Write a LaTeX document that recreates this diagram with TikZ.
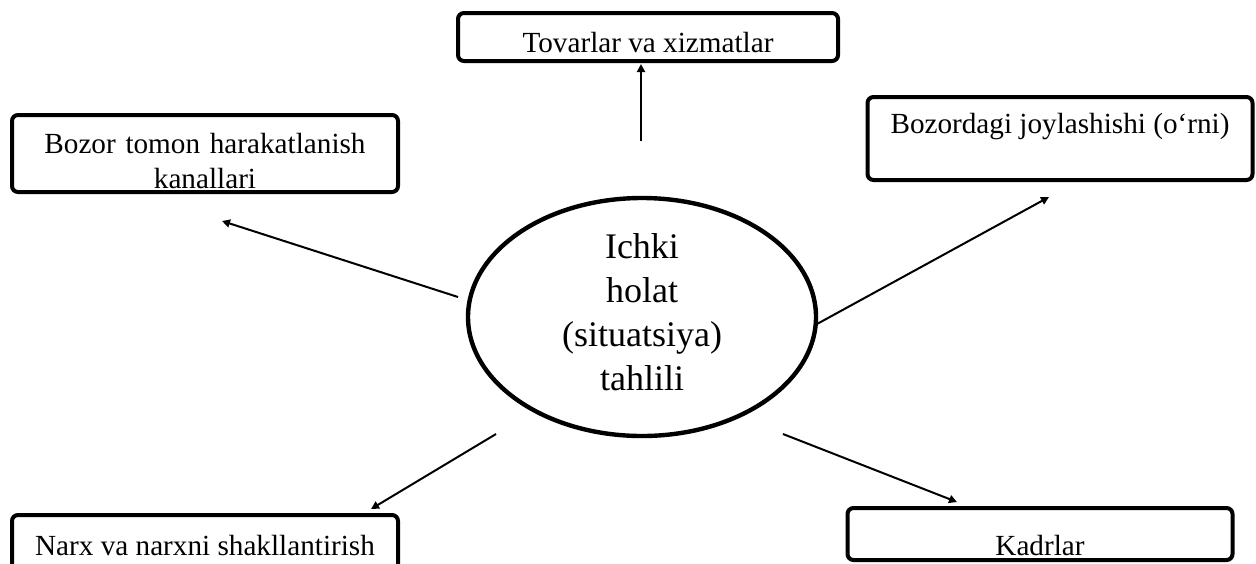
\documentclass[tikz,border=0pt]{standalone}
\usepackage{fontspec}
\setmainfont{Liberation Serif}
\usetikzlibrary{arrows.meta,
							shapes.geometric}

\begin{document}
\begin{tikzpicture}[
	x=0.5pt, y=-0.5pt,
		base/.style = {draw, line width=2pt, inner sep=0pt, anchor=base,
									 font=\fontsize{14.6}{17.5}\selectfont},
		 box/.style = {base, rectangle, rounded corners=3pt, minimum width=193pt},
		oval/.style = {draw, ellipse, line width=2.2pt, inner sep=0pt,
									 minimum width=174pt, minimum height=119pt,
									 text width=100pt, align=center,
									 text height=0pt, text depth=59pt,
									 font=\fontsize{18}{22}\selectfont},
		link/.style = {line width=1pt, arrows=-{Triangle[length=4pt,width=4pt]}}]

\useasboundingbox (0,0) rectangle (1256,563);

\node (ichki) [oval] at (642,317)
			{Ichki\\ holat\\ (situatsiya)\\ tahlili};                 % <-- centre

\node (tovar) [box, text height=19.5pt, text depth=4.5pt, minimum width=190pt]
			at (648,52) {Tovarlar va xizmatlar};                     % <-- top
\node (bozor) [box, text width=193pt, align=center,
			 text height=19pt, text depth=19.5pt]
			at (205,153) {Bozor tomon harakatlanish\\ kanallari};    % <-- left
\node (joy)   [box, text height=18pt, text depth=23.5pt, minimum width=192.5pt]
			at (1060,133) {Bozordagi joylashishi (o‘rni)};           % <-- right
\node (narx)  [box, text height=20pt, text depth=10pt]
			at (205,555) {Narx va narxni shakllantirish};            % <-- bottom left
\node (kadr)  [box, text height=23.5pt, text depth=2.5pt, minimum width=192.5pt]
			at (1040,555) {Kadrlar};                                 % <-- bottom right

%
\coordinate (tovar-a) at (641,141);
\coordinate (tovar-b) at (641,64);
\coordinate (bozor-a) at (458,297);
\coordinate (bozor-b) at (222,221);
\coordinate (joy-a)   at (817,324);
\coordinate (joy-b)   at (1049,197);
\coordinate (narx-a)  at (496,434);
\coordinate (narx-b)  at (371,509);
\coordinate (kadr-a)  at (783,434);
\coordinate (kadr-b)  at (957,502);

%%
\draw [link] (tovar-a) -- (tovar-b);
\draw [link] (bozor-a) -- (bozor-b);
\draw [link] (joy-a)   -- (joy-b);
\draw [link] (narx-a)  -- (narx-b);
\draw [link] (kadr-a)  -- (kadr-b);
\end{tikzpicture}
\end{document}
